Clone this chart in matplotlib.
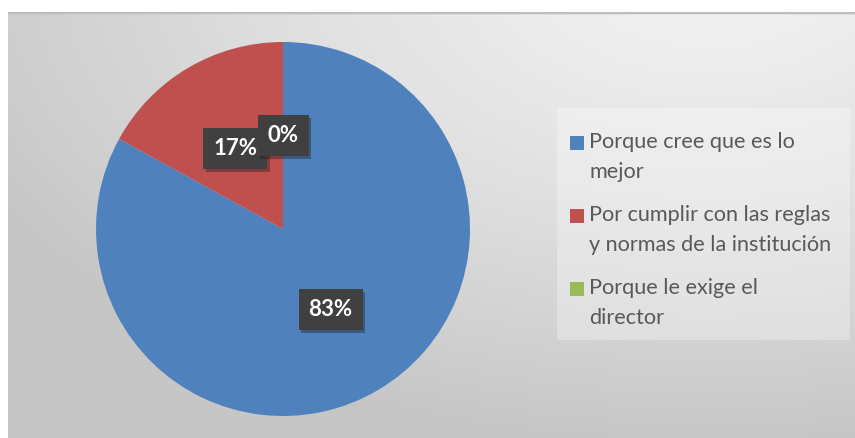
import numpy as np
import matplotlib.pyplot as plt
from matplotlib.patches import Rectangle
from matplotlib import patheffects as pe

# data
labels = ["Porque cree que es lo\nmejor",
          "Por cumplir con las reglas\ny normas de la institución",
          "Porque le exige el\ndirector"]
values = [83, 17, 0]
colors = ["#4f81bd", "#c0504d", "#9bbb59"]

W, H = 855, 438
fig = plt.figure(figsize=(W / 100, H / 100), dpi=100)
fig.patch.set_facecolor("white")

# gradient background of the chart area
bg = fig.add_axes([8 / W, 0, (W - 8) / W, (H - 12) / H])
yy, xx = np.mgrid[0:200, 0:400]
d = np.sqrt(((xx - 330) / 400.0) ** 2 + ((yy + 20) / 230.0) ** 2)
shade = np.clip(0.95 - 0.18 * d ** 1.3, 0.78, 0.95)
bg.imshow(np.dstack([shade] * 3), aspect="auto", extent=[0, 1, 0, 1], origin="upper")
bg.set_xlim(0, 1)
bg.set_ylim(0, 1)
bg.axis("off")
bg.axhline(1, color="#bdbdbd", lw=2.5)

# legend panel
fig.patches.append(Rectangle((557 / W, 1 - 340 / H), 293 / W, 232 / H,
                             transform=fig.transFigure, facecolor="white",
                             alpha=0.3, edgecolor="none", zorder=1))

# pie
ax = fig.add_axes([(283 - 187) / W, (H - 416) / H, 374 / W, 374 / H])
wedges, texts, autotexts = ax.pie(values, colors=colors, startangle=90,
                                  counterclock=False, autopct="%1.0f%%",
                                  pctdistance=0.5, radius=1,
                                  wedgeprops=dict(linewidth=0))
ax.set_xlim(-1, 1)
ax.set_ylim(-1, 1)
ax.set_aspect("equal")
for t in autotexts:
    t.set_color("white")
    t.set_fontweight("bold")
    t.set_fontsize(16)
    t.set_family("Lato")
    t.set_bbox(dict(boxstyle="square,pad=0.45", facecolor="#404040",
                    edgecolor="none"))
    t.get_bbox_patch().set_path_effects([
        pe.SimplePatchShadow(offset=(2, -2), alpha=0.35), pe.Normal()])

# legend, drawn by hand so the square lines up with the first line
legend_y = [143, 216, 289]
for lab, col, y in zip(labels, colors, legend_y):
    fig.patches.append(Rectangle((570 / W, 1 - (y + 7) / H), 14 / W, 14 / H,
                                 transform=fig.transFigure, facecolor=col,
                                 edgecolor="none", zorder=3))
    fig.text(589 / W, 1 - (y - 11) / H, lab, fontsize=15.6, family="Lato",
             color="#595959", va="top", ha="left", linespacing=1.62, zorder=3)

fig.savefig("out.png", dpi=100)
